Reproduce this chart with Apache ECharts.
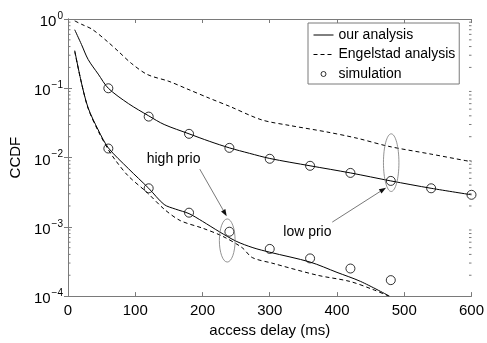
<!DOCTYPE html>
<html>
<head>
<meta charset="utf-8">
<script src="https://cdn.jsdelivr.net/npm/echarts@6/dist/echarts.min.js"></script>
<style>
  html, body { margin: 0; padding: 0; background: #fff; }
  #chart { width: 487px; height: 343px; }
</style>
</head>
<body>
<div id="chart"></div>
<script>
// access delay (ms) -> CCDF
var lowOurX = [10, 20, 30, 45, 60, 90, 120, 143, 180, 210, 240, 270, 300, 360, 420, 480, 540, 600];
var lowOurY = [0.70, 0.43, 0.26, 0.16, 0.10, 0.060, 0.040, 0.030, 0.022, 0.0172, 0.0138, 0.0115, 0.0097, 0.0076, 0.0060, 0.0046, 0.0036, 0.0029];

var lowEngX = [10, 20, 36, 60, 75, 94, 118, 150, 177, 210, 240, 288, 330, 385, 430, 477, 540, 600];
var lowEngY = [0.94, 0.84, 0.71, 0.46, 0.34, 0.23, 0.158, 0.126, 0.098, 0.072, 0.055, 0.035, 0.029, 0.0234, 0.019, 0.0145, 0.0112, 0.0087];

var highOurX = [10, 20, 30, 45, 60, 90, 120, 143, 160, 180, 200, 225, 250, 275, 300, 360, 400, 435, 478];
var highOurY = [0.35, 0.12, 0.052, 0.025, 0.0138, 0.0069, 0.0036, 0.0021, 0.0018, 0.00155, 0.0012, 0.00085, 0.00062, 0.0005, 0.00043, 0.00031, 0.00022, 0.000163, 0.0001];

var highEngX = [10, 20, 30, 45, 60, 70, 89, 118, 143, 167, 201, 230, 259, 274, 303, 371, 419, 453, 477];
var highEngY = [0.34, 0.12, 0.051, 0.024, 0.013, 0.0093, 0.0055, 0.0031, 0.0018, 0.00123, 0.00095, 0.00073, 0.0005, 0.00036, 0.0003, 0.0002, 0.000163, 0.000125, 0.0001];

var lowSimX = [60, 120, 180, 240, 300, 360, 420, 480, 540, 600];
var lowSimY = [0.10, 0.039, 0.022, 0.0138, 0.0096, 0.0076, 0.0060, 0.0046, 0.0036, 0.0029];

var highSimX = [60, 120, 180, 240, 300, 360, 420, 480];
var highSimY = [0.0135, 0.0036, 0.0016, 0.00085, 0.00048, 0.00035, 0.00025, 0.00017];

var xTicks = [0, 100, 200, 300, 400, 500, 600];
var legendNames = ['our analysis', 'Engelstad analysis', 'simulation'];

function zip(xs, ys) {
  return xs.map(function (x, i) { return [x, ys[i]]; });
}

var font = '"Liberation Sans", Arial, Helvetica, sans-serif';
var frame = '#7a7a7a';

var chart = echarts.init(document.getElementById('chart'), null, { renderer: 'canvas' });

function sup(v) {
  var e = Math.round(Math.log10(v));
  return '{b|10}{s|' + (e < 0 ? '\u2212' + (-e) : e) + '}';
}

var lineSeries = function (name, data, dashed) {
  return {
    name: name,
    type: 'line',
    data: data,
    symbol: 'none',
    smooth: 0.3,
    z: 2,
    lineStyle: { color: '#000', width: 1, type: dashed ? [4, 3] : 'solid' },
    itemStyle: { color: '#000' }
  };
};

var simSeries = function (data) {
  return {
    name: 'simulation',
    type: 'scatter',
    data: data,
    symbol: 'circle',
    symbolSize: 9,
    z: 3,
    itemStyle: { color: 'rgba(0,0,0,0)', borderColor: '#000', borderWidth: 1 }
  };
};

var xBase = {
  type: 'value', min: 0, max: 600, interval: 100,
  axisLine: { lineStyle: { color: frame, width: 1 } },
  axisTick: { inside: true, length: 4, lineStyle: { color: frame } },
  splitLine: { show: false }
};
var yBase = {
  type: 'log', logBase: 10, min: 0.0001, max: 1, interval: 1,
  axisLine: { show: true, lineStyle: { color: frame, width: 1 } },
  axisTick: { show: true, inside: true, length: 4, lineStyle: { color: frame } },
  splitLine: { show: false }
};

chart.setOption({
  animation: false,
  backgroundColor: '#fff',
  textStyle: { fontFamily: font },
  grid: { left: 62, right: 13, top: 19, bottom: 36 },
  legend: {
    data: legendNames.map(function (n) {
      return n === 'simulation'
        ? { name: n, icon: 'circle', itemStyle: { color: '#fff', borderColor: '#000', borderWidth: 1 } }
        : { name: n, itemStyle: { opacity: 0 } };
    }),
    orient: 'vertical',
    left: 308, top: 23,
    itemWidth: 20, itemHeight: 5, itemGap: 5.5,
    padding: [5, 4, 3, 5],
    borderColor: frame, borderWidth: 1,
    backgroundColor: '#fff',
    lineStyle: { width: 1 },
    textStyle: { fontSize: 14, color: '#000', fontFamily: font, lineHeight: 14 },
    selectedMode: false
  },
  xAxis: [
    echarts.util.merge({
      position: 'bottom',
      name: 'access delay (ms)', nameLocation: 'middle', nameGap: 25,
      nameTextStyle: { fontSize: 15, color: '#000', fontFamily: font },
      axisLabel: { fontSize: 15, color: '#000', margin: 7, fontFamily: font,
        customValues: xTicks }
    }, xBase, true),
    echarts.util.merge({ position: 'top', axisLabel: { show: false } }, xBase, true)
  ],
  yAxis: [
    echarts.util.merge({
      position: 'left',
      name: 'CCDF', nameLocation: 'middle', nameGap: 34, nameRotate: 90,
      nameTextStyle: { fontSize: 15, color: '#000', fontFamily: font },
      axisLabel: {
        margin: 5, color: '#000',
        formatter: sup,
        rich: {
          b: { fontSize: 15, fontFamily: font, color: '#000', padding: [6, 0, 0, 0] },
          s: { fontSize: 10, fontFamily: font, color: '#000', padding: [0, 0, 6, 1] }
        }
      }
    }, yBase, true),
    echarts.util.merge({ position: 'right', axisLabel: { show: false } }, yBase, true)
  ],
  series: [
    lineSeries('our analysis', zip(lowOurX, lowOurY), false),
    lineSeries('our analysis', zip(highOurX, highOurY), false),
    lineSeries('Engelstad analysis', zip(lowEngX, lowEngY), true),
    lineSeries('Engelstad analysis', zip(highEngX, highEngY), true),
    simSeries(zip(lowSimX, lowSimY)),
    simSeries(zip(highSimX, highSimY))
  ]
});

// annotations, placed in data coordinates
var ellipses = [
  { x: 236.8, y: 0.000635, dx: 11.7, top: 0.0013 },
  { x: 480.6, y: 0.00844, dx: 11.5, top: 0.022 }
];
var arrows = [
  { from: [196, 0.0068], to: [236, 0.00142] },
  { from: [393, 0.00117], to: [473, 0.00367] }
];
var notes = [
  { text: 'high prio', at: [157, 0.0094] },
  { text: 'low prio', at: [356, 0.00085] }
];

function px(p) {
  return chart.convertToPixel({ gridIndex: 0 }, p);
}

var graphics = [];

ellipses.forEach(function (e) {
  var c = px([e.x, e.y]);
  var t = px([e.x, e.top]);
  var r = px([e.x + e.dx, e.y]);
  graphics.push({
    type: 'ellipse', silent: true, z: 10,
    shape: { cx: c[0], cy: c[1], rx: r[0] - c[0], ry: c[1] - t[1] },
    style: { fill: 'none', stroke: '#777', lineWidth: 0.8 }
  });
});

arrows.forEach(function (a) {
  var p0 = px(a.from), p1 = px(a.to);
  var dx = p1[0] - p0[0], dy = p1[1] - p0[1];
  var len = Math.sqrt(dx * dx + dy * dy);
  var ux = dx / len, uy = dy / len;
  var hl = 7, hw = 2.5;
  var bx = p1[0] - ux * hl, by = p1[1] - uy * hl;
  graphics.push({
    type: 'line', silent: true, z: 10,
    shape: { x1: p0[0], y1: p0[1], x2: bx, y2: by },
    style: { stroke: '#555', lineWidth: 0.8 }
  });
  graphics.push({
    type: 'polygon', silent: true, z: 10,
    shape: { points: [[p1[0], p1[1]], [bx - uy * hw, by + ux * hw], [bx + uy * hw, by - ux * hw]] },
    style: { fill: '#111' }
  });
});

notes.forEach(function (n) {
  var p = px(n.at);
  graphics.push({
    type: 'text', silent: true, z: 10,
    x: p[0], y: p[1],
    style: { text: n.text, fontSize: 14, fontFamily: font, fill: '#000', align: 'center', verticalAlign: 'middle' }
  });
});

// log minor ticks (2..9 per decade) on both vertical sides
for (var k = -4; k < 0; k++) {
  for (var m = 2; m <= 9; m++) {
    var yv = m * Math.pow(10, k);
    var pl = px([0, yv]);
    var pr = px([600, yv]);
    graphics.push({
      type: 'line', silent: true, z: 5,
      shape: { x1: pl[0], y1: pl[1], x2: pl[0] + 2.5, y2: pl[1] },
      style: { stroke: frame, lineWidth: 1 }
    });
    graphics.push({
      type: 'line', silent: true, z: 5,
      shape: { x1: pr[0], y1: pr[1], x2: pr[0] - 2.5, y2: pr[1] },
      style: { stroke: frame, lineWidth: 1 }
    });
  }
}

chart.setOption({ graphic: graphics });
</script>
</body>
</html>
